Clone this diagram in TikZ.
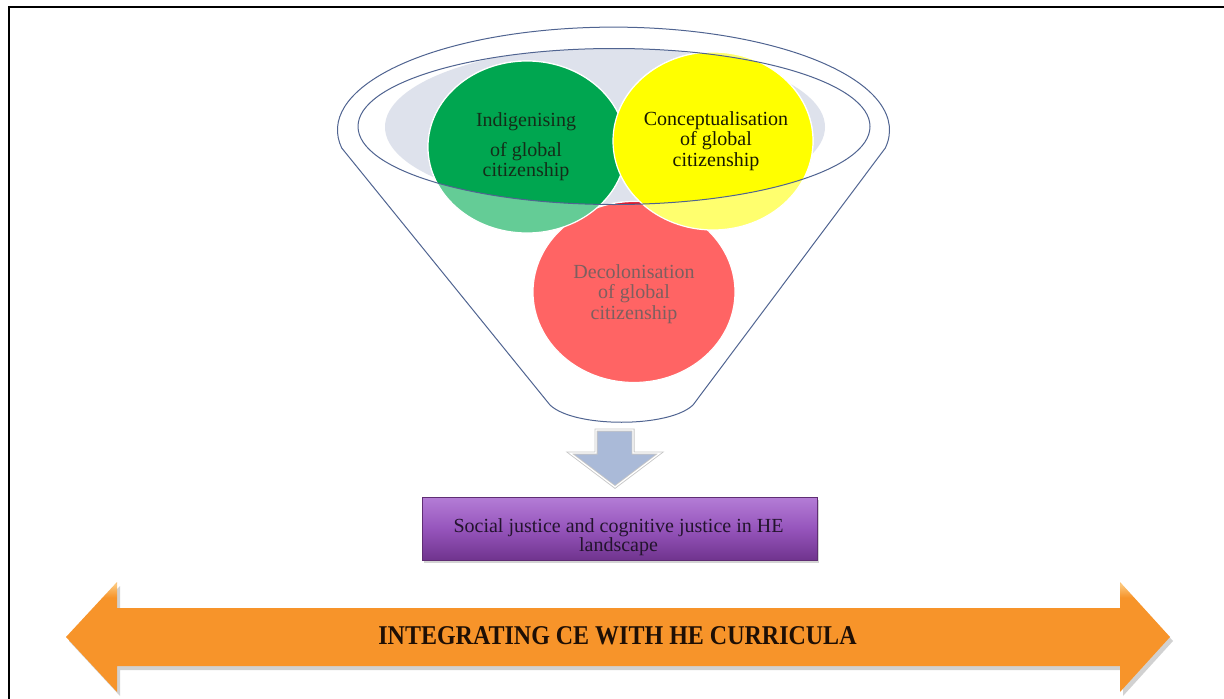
\documentclass[tikz,border=0pt]{standalone}
\usepackage{fontspec}
\setmainfont{Liberation Serif}
\usetikzlibrary{shadows}
\definecolor{funnelline}{RGB}{80,100,145}
\definecolor{rimgray}{RGB}{222,226,236}
\definecolor{gfull}{RGB}{0,166,80}
\definecolor{glight}{RGB}{100,204,150}
\definecolor{yfull}{RGB}{255,255,0}
\definecolor{ylight}{RGB}{255,255,110}
\definecolor{rfull}{RGB}{225,20,40}
\definecolor{rlight}{RGB}{255,100,100}
\definecolor{arrowblue}{RGB}{170,186,216}
\definecolor{purpletop}{RGB}{180,125,214}
\definecolor{purplemid}{RGB}{150,85,188}
\definecolor{purplebot}{RGB}{112,52,142}
\definecolor{purpleline}{RGB}{95,45,115}
\definecolor{orangetop}{RGB}{252,200,125}
\definecolor{orangemid}{RGB}{247,148,42}
\definecolor{orangebot}{RGB}{215,115,25}
\definecolor{gtext}{RGB}{20,45,25}
\definecolor{ytext}{RGB}{25,25,0}
\definecolor{rtext}{RGB}{125,95,95}
\definecolor{ptext}{RGB}{35,20,45}
\definecolor{otext}{RGB}{30,15,5}
\pgfdeclareverticalshading{orangebar}{100bp}{color(0bp)=(orangebot); color(20bp)=(orangemid); color(68bp)=(orangemid); color(74bp)=(orangetop); color(79bp)=(orangemid); color(100bp)=(orangemid)}
\begin{document}
\begin{tikzpicture}[x=1pt,y=-1pt,
  lbl/.style={align=center, font=\fontsize{20}{20.5}\selectfont, inner sep=0pt},
  funnelstroke/.style={draw=funnelline, line width=1pt},
  circedge/.style={draw=white, line width=1.2pt}]
\useasboundingbox (0,0) rectangle (1224,699);
% frame
\draw[line width=2pt] (8.5,699) -- (8.5,7) -- (1224,7);
% funnel body
\path[funnelstroke, fill=white] (550,405) -- (341.7,148)
  arc[start angle=170,end angle=370,x radius=276,y radius=103]
  -- (693,405) .. controls (669,428) and (574,428) .. (550,405) -- cycle;
% grey mouth
\begin{scope}
  \clip (614,126.5) ellipse [x radius=256, y radius=78];
  \fill[rimgray] (605,127) ellipse [x radius=220, y radius=80];
\end{scope}
% circles (below rim)
\path[fill=rlight, circedge] (634,292) ellipse[x radius=101, y radius=90.5];
\path[fill=glight, circedge] (527,147) ellipse[x radius=99, y radius=86];
\path[fill=ylight, circedge] (713,141) ellipse[x radius=100, y radius=89];
% circles (inside rim)
\begin{scope}
  \clip (614,126.5) ellipse [x radius=256, y radius=78];
  \path[fill=rfull, circedge] (634,292) ellipse[x radius=101, y radius=90.5];
  \path[fill=gfull, circedge] (527,147) ellipse[x radius=99, y radius=86];
  \path[fill=yfull, circedge] (713,141) ellipse[x radius=100, y radius=89];
\end{scope}
% rim
\draw[funnelstroke] (614,126.5) ellipse [x radius=256, y radius=78];
% labels
\node[lbl, text=gtext] (indig) at (526,147) {Indigenising\\[9pt]of global\\citizenship};
\node[lbl, text=ytext] (concept) at (716,141) {Conceptualisation\\of global\\citizenship};
\node[lbl, text=rtext] (decol) at (634,294) {Decolonisation\\of global\\citizenship};
% down arrow
\path[draw=gray!45, line width=3pt, fill=arrowblue] (596,430) -- (633,430) -- (633,453) -- (660,453) -- (615,487) -- (570,453) -- (596,453) -- cycle;
\path[draw=white, line width=1.3pt] (596,430) -- (633,430) -- (633,453) -- (660,453) -- (615,487) -- (570,453) -- (596,453) -- cycle;
% purple box
\node[draw=purpleline, line width=0.6pt, top color=purpletop, bottom color=purplebot, middle color=purplemid,
  minimum width=395, minimum height=63, inner sep=0pt,
  drop shadow={opacity=0.35, shadow xshift=2pt, shadow yshift=-3pt}] (justice) at (619.5,528.5) {};
\node[align=center, inner sep=0pt, text=ptext, font=\fontsize{20}{19}\selectfont] (justicetext) at (618.5,537)
  {Social justice and cognitive justice in HE\\landscape};
% bottom double arrow
\fill[black, opacity=0.18] (69,641) -- (120,586) -- (120,612) -- (1123,612) -- (1123,586) -- (1173,641) -- (1123,696) -- (1123,670) -- (120,670) -- (120,696) -- cycle;
\shade[shading=orangebar]
  (66,637) -- (117,582) -- (117,608) -- (1120,608) -- (1120,582) -- (1170,637) -- (1120,692) -- (1120,666) -- (117,666) -- (117,692) -- cycle;
\node[inner sep=0pt, text=otext, font=\fontsize{24}{26}\selectfont\bfseries] (integ) at (617.5,636)
  {\scalebox{1}[1.13]{INTEGRATING CE WITH HE CURRICULA}};
\end{tikzpicture}
\end{document}
